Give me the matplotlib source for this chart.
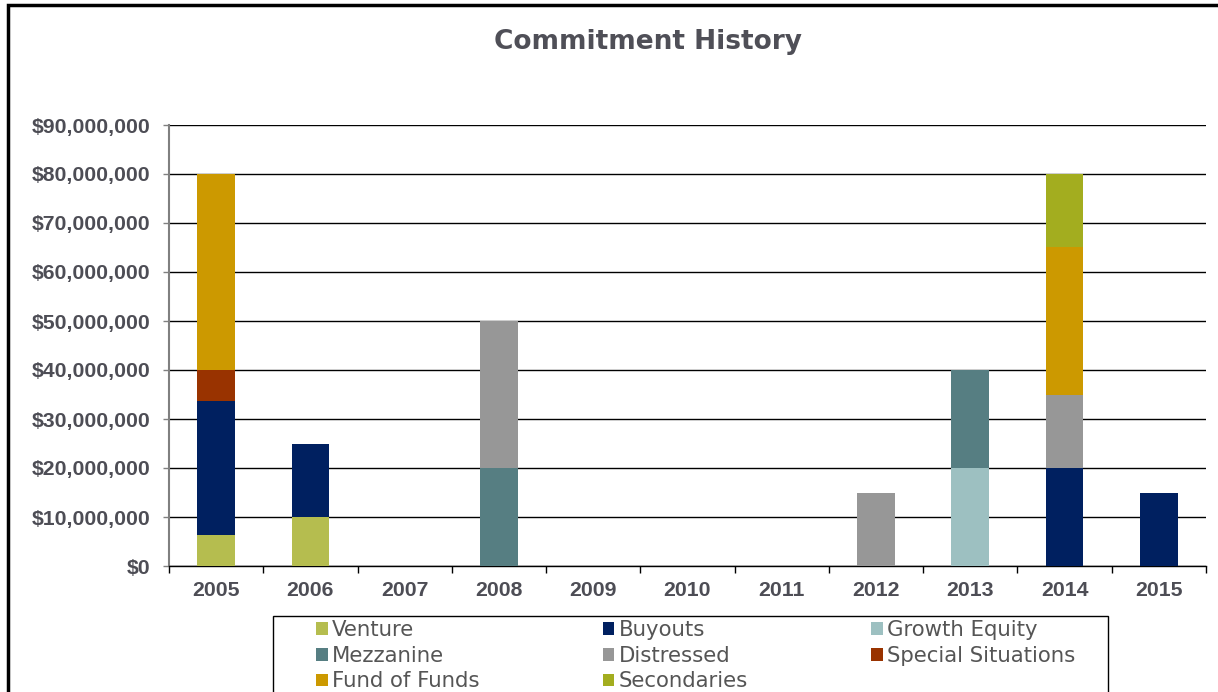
import matplotlib
matplotlib.use("Agg")
import matplotlib.pyplot as plt
from matplotlib.patches import Patch, Rectangle
from matplotlib.ticker import FuncFormatter
import numpy as np

years = ["2005", "2006", "2007", "2008", "2009", "2010", "2011", "2012", "2013", "2014", "2015"]
venture        = [6.25e6, 10e6, 0, 0, 0, 0, 0, 0, 0, 0, 0]
buyouts        = [27.5e6, 15e6, 0, 0, 0, 0, 0, 0, 0, 20e6, 15e6]
growth_equity  = [0, 0, 0, 0, 0, 0, 0, 0, 20e6, 0, 0]
mezzanine      = [0, 0, 0, 20e6, 0, 0, 0, 0, 20e6, 0, 0]
distressed     = [0, 0, 0, 30e6, 0, 0, 0, 15e6, 0, 15e6, 0]
special_sit    = [6.25e6, 0, 0, 0, 0, 0, 0, 0, 0, 0, 0]
fund_of_funds  = [40e6, 0, 0, 0, 0, 0, 0, 0, 0, 30e6, 0]
secondaries    = [0, 0, 0, 0, 0, 0, 0, 0, 0, 15e6, 0]

series_names = ["Venture", "Buyouts", "Growth Equity", "Mezzanine", "Distressed",
                "Special Situations", "Fund of Funds", "Secondaries"]
series_vals = [venture, buyouts, growth_equity, mezzanine, distressed,
               special_sit, fund_of_funds, secondaries]
colors = ["#B5BD4F", "#002060", "#9DC0C1", "#567E82", "#979797",
          "#993300", "#CC9900", "#A3AD1F"]

text_col = "#4d4d55"
W, H = 1218, 692

fig = plt.figure(figsize=(W/100, H/100), dpi=100)
ax = fig.add_axes([169/W, 1-566/H, (1206-169)/W, (566-125)/H])

x = np.arange(len(years))
bottom = np.zeros(len(years))
for name, vals, c in zip(series_names, series_vals, colors):
    v = np.array(vals, dtype=float)
    ax.bar(x, v, width=0.40, bottom=bottom, color=c, label=name, zorder=3,
           edgecolor="none")
    bottom += v

ax.set_xlim(-0.5, len(years) - 0.5)
ax.set_ylim(0, 90e6)
ax.set_yticks(np.arange(0, 90e6 + 1, 10e6))
ax.yaxis.set_major_formatter(FuncFormatter(lambda v, p: f"${v:,.0f}"))
ax.grid(axis="y", color="black", linewidth=1.0, zorder=1)
ax.set_axisbelow(True)

ax.set_xticks(x)
ax.set_xticklabels(years)
ax.set_xticks(np.arange(-0.5, len(years), 1.0), minor=True)
ax.tick_params(axis="x", which="major", length=0, pad=11)
ax.tick_params(axis="x", which="minor", length=5, width=1, color="black")
ax.tick_params(axis="y", length=4, width=1, color="#808080", pad=9.5)

for lab in ax.get_xticklabels() + ax.get_yticklabels():
    lab.set_fontfamily("Liberation Sans")
    lab.set_fontweight("bold")
    lab.set_fontsize(15.3)
    lab.set_color(text_col)

for s in ["top", "right"]:
    ax.spines[s].set_visible(False)
ax.spines["left"].set_color("#808080")
ax.spines["left"].set_linewidth(1.5)
ax.spines["bottom"].set_color("black")
ax.spines["bottom"].set_linewidth(1.0)

fig.text(648/W, 1-42/H, "Commitment History", ha="center", va="center",
         fontsize=19, fontweight="bold", color="#4f4f57", family="DejaVu Sans")

# outer frame
fig.patches.append(Rectangle((8/W, -0.1), 1.2, 1 - 5/H + 0.1, transform=fig.transFigure,
                             fill=False, edgecolor="black", linewidth=2.5))
# legend frame
fig.patches.append(Rectangle((273/W, -0.1), (1108-273)/W, 0.1 + 1 - 616/H,
                             transform=fig.transFigure, fill=False,
                             edgecolor="black", linewidth=1.0, zorder=5))

order = [0, 3, 6, 1, 4, 7, 2, 5]
handles = [Patch(facecolor=colors[i], edgecolor="none") for i in order]
labels = [series_names[i] for i in order]
leg = fig.legend(handles, labels, ncol=3, loc="upper left",
                 bbox_to_anchor=(316/W, 1-620/H, (1075-316)/W, 0),
                 mode="expand", frameon=False,
                 handlelength=0.55, handleheight=0.55, handletextpad=0.2,
                 labelspacing=0.27, borderpad=0, borderaxespad=0,
                 prop={"family": "DejaVu Sans", "size": 15.3})
for t in leg.get_texts():
    t.set_color("#555555")

fig.savefig("out.png", dpi=100)
